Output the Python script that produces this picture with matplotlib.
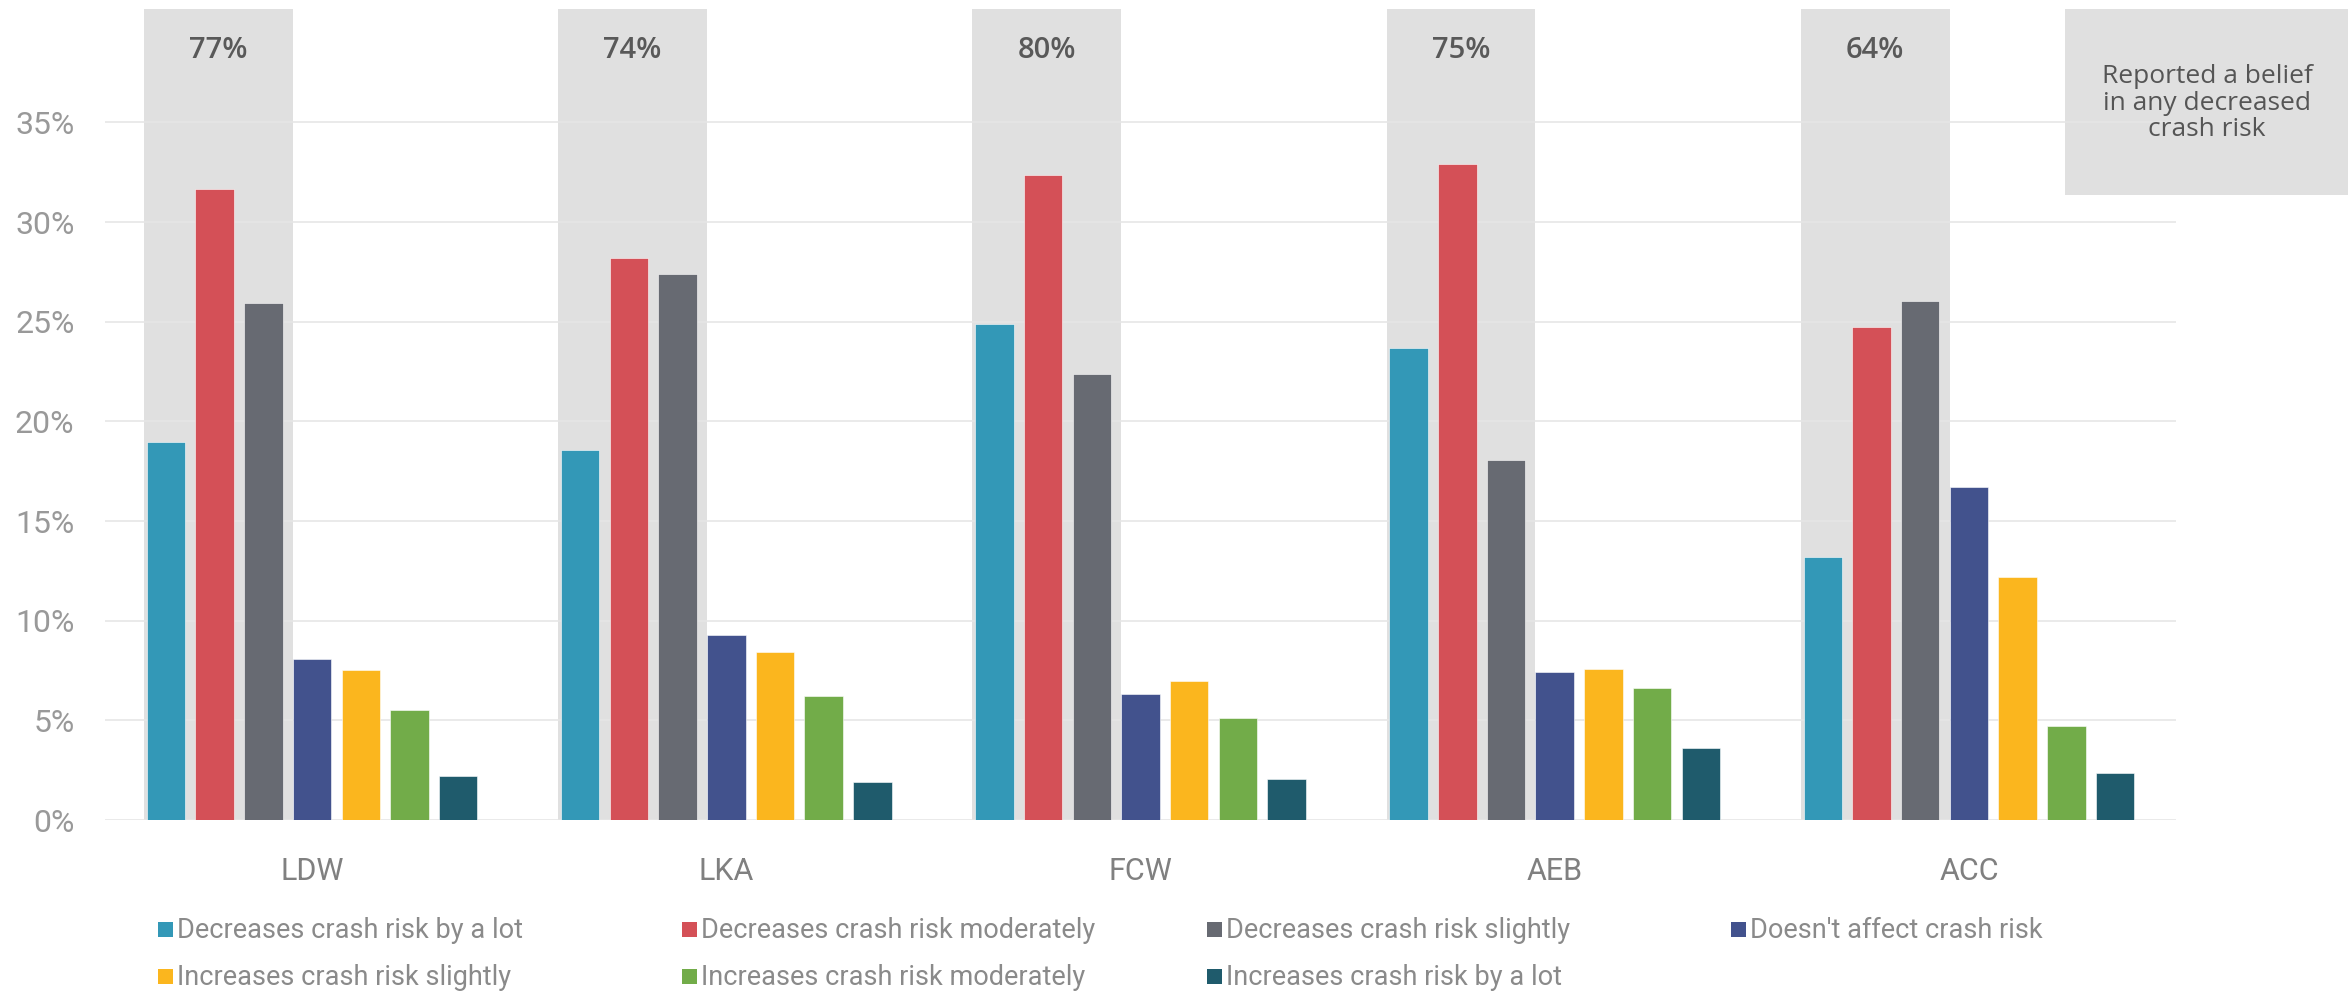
import numpy as np
import matplotlib.pyplot as plt
from matplotlib.patches import Rectangle

# data
systems = ["LDW", "LKA", "FCW", "AEB", "ACC"]
any_decreased = [77, 74, 80, 75, 64]

dec_lot = [18.95, 18.55, 24.9, 23.7, 13.2]
dec_mod = [31.65, 28.2, 32.35, 32.9, 24.75]
dec_slight = [25.95, 27.4, 22.4, 18.05, 26.05]
no_effect = [8.1, 9.3, 6.3, 7.45, 16.7]
inc_slight = [7.55, 8.45, 6.95, 7.6, 12.2]
inc_mod = [5.5, 6.2, 5.1, 6.6, 4.7]
inc_lot = [2.2, 1.9, 2.05, 3.6, 2.35]

series_names = [
    "Decreases crash risk by a lot",
    "Decreases crash risk moderately",
    "Decreases crash risk slightly",
    "Doesn't affect crash risk",
    "Increases crash risk slightly",
    "Increases crash risk moderately",
    "Increases crash risk by a lot",
]
series_vals = [dec_lot, dec_mod, dec_slight, no_effect, inc_slight, inc_mod, inc_lot]
colors = ["#3398B7", "#D45057", "#676A72", "#42528D", "#FBB61E", "#72AC49", "#1F5B6C"]

plt.rcParams["font.family"] = ["Roboto", "DejaVu Sans"]

W, H = 2348, 992
fig = plt.figure(figsize=(W / 100, H / 100), dpi=100)
ax = fig.add_axes([105 / W, 172 / H, 2071 / W, 811 / H])
ax.patch.set_visible(False)

x = np.arange(len(systems))
pitch = 0.1176
bw = 0.093
ytop = 40.69

# grey bands behind the three "decreases" bars
for j in x:
    left = j - 3 * pitch - bw / 2 - 0.0065
    right = j - bw / 2
    ax.axvspan(left, right, ymin=0, ymax=1, color="#E0E0E0", lw=0, zorder=1)
    ax.text((left + right) / 2, 38.6, f"{any_decreased[j]}%", ha="center", va="center",
            fontsize=21, fontweight="semibold", color="#595959",
            family=["Open Sans", "DejaVu Sans"], zorder=4)

for i, (vals, c) in enumerate(zip(series_vals, colors)):
    ax.bar(x + (i - 3) * pitch, vals, width=bw, color=c, edgecolor="white",
           linewidth=0.4, zorder=3)

ax.set_xlim(-0.5, len(systems) - 0.5)
ax.set_ylim(0, ytop)
ax.set_yticks(np.arange(0, 36, 5))
ax.set_yticklabels([f"{v}%" for v in range(0, 36, 5)])
ax.set_xticks(x)
ax.set_xticklabels(systems)
ax.grid(axis="y", color="#E6E6E6", linewidth=1.2, zorder=2)
ax.set_axisbelow(False)
for s in ax.spines.values():
    s.set_visible(False)
ax.tick_params(axis="y", length=0, pad=22, labelsize=23, labelcolor="#999999")
ax.tick_params(axis="x", length=0, pad=27, labelsize=22, labelcolor="#808080")

# callout box on the right
fig.add_artist(Rectangle((2065 / W, 1 - 195 / H), 283 / W, 186 / H,
                         transform=fig.transFigure, facecolor="#E0E0E0",
                         edgecolor="none", zorder=-1))
fig.text(2207 / W, 1 - 103 / H, "Reported a belief\nin any decreased\ncrash risk",
         ha="center", va="center", fontsize=19, color="#555555",
         linespacing=1.1, family=["Open Sans", "DejaVu Sans"])

# legend laid out in Excel-style fixed columns
for i, (name, c) in enumerate(zip(series_names, colors)):
    row, col = divmod(i, 4)
    lx = 158 + col * 524.3
    ly = 929 + row * 47.5
    fig.add_artist(Rectangle((lx / W, 1 - (ly + 7.5) / H), 15 / W, 15 / H,
                             transform=fig.transFigure, facecolor=c, edgecolor="none"))
    fig.text((lx + 19) / W, 1 - (ly + 1) / H, name, ha="left", va="center",
             fontsize=19.5, color="#8A8A8A")

fig.savefig("out.png", dpi=100)
